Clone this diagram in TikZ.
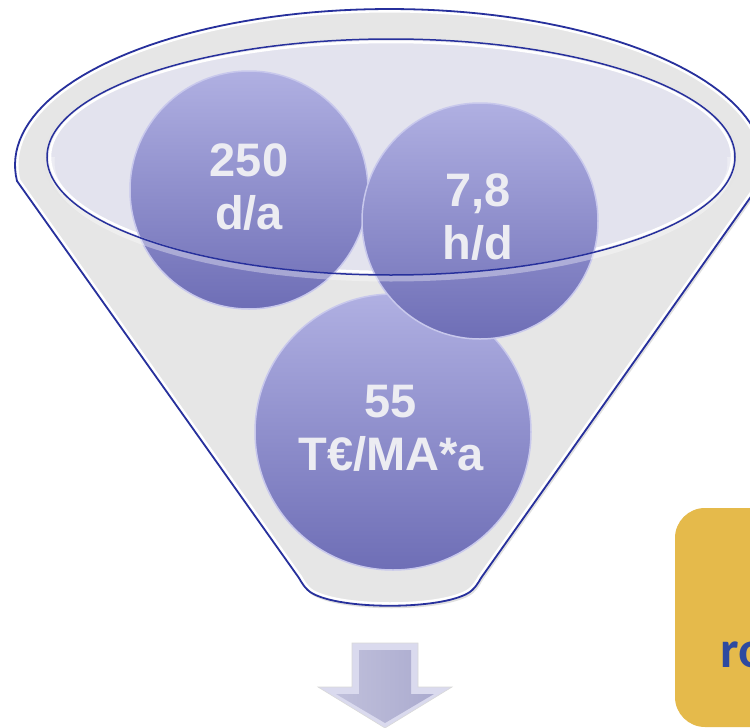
\documentclass[tikz,border=0pt]{standalone}
\usepackage{fontspec}
\setmainfont{Liberation Sans}
\newfontfamily\boxfont{Carlito}
\definecolor{navyline}{HTML}{27309C}
\definecolor{funnelgray}{HTML}{E6E6E6}
\definecolor{innerfill}{HTML}{E3E3EE}
\definecolor{balltop}{HTML}{B0B0E2}
\definecolor{ballbot}{HTML}{6E6EB6}
\definecolor{ballrim}{HTML}{C8C8EC}
\definecolor{balltext}{HTML}{ECECF2}
\definecolor{arrowface}{HTML}{ABABCF}
\definecolor{arrowedge}{HTML}{DADAEE}
\definecolor{boxgold}{HTML}{E5BA4B}
\definecolor{boxtext}{HTML}{2E4AA0}
\tikzset{
  ball/.style={circle, draw=ballrim, line width=1.5pt, top color=balltop, bottom color=ballbot, inner sep=0pt},
  lbl/.style={text=balltext, align=center, font=\bfseries\fontsize{47}{53}\selectfont, inner sep=0pt},
}
\def\funnelpath{plot[domain=185.9:-5.9,samples=90] ({389.5+374.5*cos(\x)},{165-156*sin(\x)}) -- (481,578) .. controls (475,589) and (470,593) .. (462,596) .. controls (430,609) and (350,609) .. (318,596) .. controls (310,593) and (305,589) .. (299,578) -- cycle}
\begin{document}
\begin{tikzpicture}[x=1pt,y=-1pt]
\useasboundingbox (0,0) rectangle (750,728);
\clip (0,0) rectangle (750,728);
\fill[white] (0,0) rectangle (750,728);
% shadow of funnel
\begin{scope}[shift={(1.5,2.5)}]
  \fill[black!12] \funnelpath;
\end{scope}
% funnel body
\fill[funnelgray] \funnelpath;
\begin{scope}
  \clip \funnelpath;
  \draw[white, line width=7pt] \funnelpath;
\end{scope}
\draw[navyline, line width=1.8pt, line join=round] \funnelpath;
% rim shadow around inner opening
\draw[black!10, line width=5pt] (391,159) ellipse [x radius=345, y radius=119];
% inner opening
\fill[innerfill] (391,157) ellipse [x radius=344, y radius=118];
\draw[white, line width=2.5pt] (391,157) ellipse [x radius=341, y radius=115];
% balls
\node[ball, minimum size=276pt] (c55) at (393,432) {};
\node[ball, minimum size=238pt] (c250) at (249,190) {};
\node[ball, minimum size=236pt] (c78) at (480,221) {};
% glass highlight along the front edge of the opening
\begin{scope}
  \clip (0,157) rectangle (750,300);
  \draw[white, opacity=0.35, line width=7pt] (391,162) ellipse [x radius=340, y radius=116];
\end{scope}
\draw[navyline, line width=1.5pt] (391,157) ellipse [x radius=344, y radius=118];
% labels
\node[lbl] (t250) at (249,187) {250\\d/a};
\node[lbl] (t78) at (478,217) {7,8\\h/d};
\node[lbl] (t55) at (391,428) {55\\T€/MA*a};
% down arrow
\path[fill=arrowedge, draw=black!15, line width=0.6pt] (352,643) -- (418,643) -- (418,687) -- (452,687) -- (385,728) -- (318,687) -- (352,687) -- cycle;
\path[left color=arrowface!75!white, right color=arrowface] (359,650) -- (411,650) -- (411,694) -- (434,694) -- (385,723) -- (336,694) -- (359,694) -- cycle;
\node[inner sep=0pt] (arrow) at (385,685) {};
% yellow box
\fill[boxgold, rounded corners=30pt] (675,508) rectangle (800,727);
\node[anchor=base west, inner sep=0pt, text=boxtext, font=\boxfont\bfseries\fontsize{52}{60}\selectfont] (boxtxt) at (720,667) {ro};
\end{tikzpicture}
\end{document}
